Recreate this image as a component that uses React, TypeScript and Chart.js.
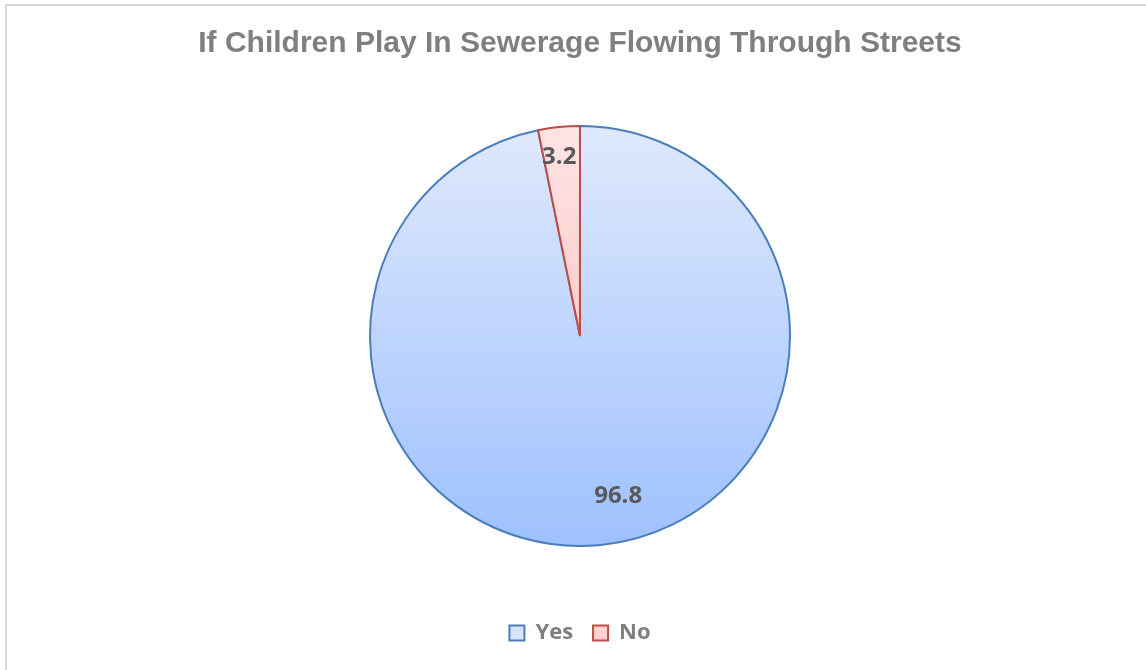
import React, { useEffect, useRef } from "react";
import { Chart, registerables } from "chart.js";

Chart.register(...registerables);

// Survey answers (percent of respondents)
const chartTitle = "If Children Play In Sewerage Flowing Through Streets";
const categories = ["Yes", "No"];
const shares = [96.8, 3.2];
const valueLabels = ["96.8", "3.2"];

// Slice styling
const fillTop = ["rgb(223,233,252)", "rgb(255,228,228)"];
const fillBottom = ["rgb(158,193,255)", "rgb(255,178,178)"];
const legendFill = ["rgb(214,228,252)", "rgb(255,210,210)"];
const edgeColors = ["#4a7ebb", "#be4b48"];

const PIE_RADIUS = 210;
// radial position (fraction of radius) and angular nudge (degrees) of each value label
const labelRadius = [0.775, 0.865];
const labelNudge = [-7.8, -0.8];

const valueLabelPlugin = {
  id: "valueLabels",
  afterDatasetsDraw(chart: any) {
    const { ctx } = chart;
    const meta = chart.getDatasetMeta(0);
    ctx.save();
    ctx.font = "bold 24px 'Open Sans', Lato, sans-serif";
    ctx.fillStyle = "#595959";
    ctx.textAlign = "center";
    ctx.textBaseline = "middle";
    meta.data.forEach((arc: any, i: number) => {
      const { x, y, startAngle, endAngle, outerRadius } = arc.getProps(
        ["x", "y", "startAngle", "endAngle", "outerRadius"],
        true
      );
      const mid = (startAngle + endAngle) / 2 + (labelNudge[i] * Math.PI) / 180;
      const r = outerRadius * labelRadius[i];
      ctx.fillText(valueLabels[i], x + Math.cos(mid) * r, y + Math.sin(mid) * r + 1.5);
    });
    ctx.restore();
  },
};

function sliceGradient(context: any) {
  const chart = context.chart;
  const area = chart.chartArea;
  const i = context.dataIndex ?? 0;
  if (!area) return fillBottom[i];
  const cy = (area.top + area.bottom) / 2;
  const g = chart.ctx.createLinearGradient(0, cy - PIE_RADIUS, 0, cy + PIE_RADIUS);
  g.addColorStop(0, fillTop[i]);
  g.addColorStop(1, fillBottom[i]);
  return g;
}

export default function App() {
  const canvasRef = useRef<HTMLCanvasElement | null>(null);

  useEffect(() => {
    if (!canvasRef.current) return;
    const chart = new Chart(canvasRef.current, {
      type: "pie",
      data: {
        labels: categories,
        datasets: [
          {
            data: shares,
            backgroundColor: sliceGradient,
            borderColor: edgeColors,
            borderWidth: 2,
          },
        ],
      },
      options: {
        animation: false,
        responsive: false,
        radius: PIE_RADIUS,
        layout: { padding: { left: 14, right: 0, top: 0, bottom: 16 } },
        plugins: {
          tooltip: { enabled: false },
          title: {
            display: true,
            text: chartTitle,
            color: "#7f7f7f",
            font: { family: "'Liberation Sans', Arial, sans-serif", size: 30, weight: "bold" },
            padding: { top: 26, bottom: 8 },
          },
          legend: {
            position: "bottom",
            labels: {
              color: "#7f7f7f",
              font: { family: "'Open Sans', Lato, sans-serif", size: 22, weight: "bold" },
              boxWidth: 15,
              boxHeight: 15,
              padding: 20,
              generateLabels: () =>
                categories.map((c, i) => ({
                  text: c,
                  fillStyle: legendFill[i],
                  strokeStyle: edgeColors[i],
                  lineWidth: 2,
                  fontColor: "#7f7f7f",
                  hidden: false,
                  index: i,
                  datasetIndex: 0,
                })),
            },
          },
        },
      },
      plugins: [valueLabelPlugin],
    });
    return () => chart.destroy();
  }, []);

  return (
    <div style={{ position: "fixed", left: 0, top: 0, width: 1146, height: 670, background: "#fff", overflow: "hidden" }}>
      <div
        style={{
          position: "absolute",
          left: 5,
          top: 4,
          width: 1160,
          height: 690,
          borderLeft: "2px solid #d9d9d9",
          borderTop: "2px solid #d9d9d9",
        }}
      />
      <canvas ref={canvasRef} width={1146} height={670} style={{ position: "absolute", left: 0, top: 0 }} />
    </div>
  );
}
